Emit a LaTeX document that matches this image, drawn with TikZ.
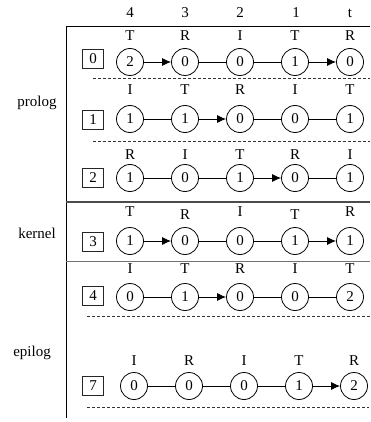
\documentclass[tikz,border=0pt]{standalone}
\usepackage{fontspec}
\setmainfont{Liberation Serif}
\usepackage{tikz}
\usetikzlibrary{arrows.meta}

\tikzset{
  st/.style={draw,circle,minimum size=27pt,inner sep=0pt},
  stepno/.style={draw=black!85,minimum width=21pt,minimum height=19pt,inner sep=0pt},
  cut/.style={dash pattern=on 3pt off 2pt,line width=0.6pt,black!80}
}

\begin{document}
\begin{tikzpicture}[x=1pt,y=-1pt,line width=0.8pt,
    font=\fontsize{15}{18}\selectfont,>={Latex[length=9pt,width=8pt]}]
        \useasboundingbox (0,0) rectangle (370,422);
        % column numbers
        \node (h4) at (130,13) {4};
        \node (h3) at (185,13) {3};
        \node (h2) at (240,13) {2};
        \node (h1) at (296,13) {1};
        \node (ht) at (350,13) {t};
        % frame and stage borders
        \draw (66,26)--(370,26);
        \draw (66,26)--(66,418);
        \draw[line width=1.8pt,black!70] (66,202)--(370,202);
        \draw[black!55] (66,261)--(370,261);
        \node (prolog) at (37,103) {prolog};
        \node (kernel) at (37,233) {kernel};
        \node (epilog) at (32,353) {epilog};

        % iteration 0
        \node[stepno] (b0) at (93,59) {0};
        \foreach \x/\t/\v [count=\i] in {130/T/2,185/R/0,240/I/0,295/T/1,350/R/0}{
          \node[st] (s0\i) at (\x,62) {\v};
          \node (t0\i) at (\x,36) {\t};
        }
        \draw[->] (s01)--(s02);
        \draw (s02)--(s03);
        \draw (s03)--(s04);
        \draw[->] (s04)--(s05);
        \draw[cut] (93,78)--(370,78);

        % iteration 1
        \node[stepno] (b1) at (93,120) {1};
        \foreach \x/\t/\v [count=\i] in {130/I/1,185/T/1,240/R/0,295/I/0,350/T/1}{
          \node[st] (s1\i) at (\x,119) {\v};
          \node (t1\i) at (\x,90) {\t};
        }
        \draw (s11)--(s12);
        \draw[->] (s12)--(s13);
        \draw (s13)--(s14);
        \draw (s14)--(s15);
        \draw[cut] (93,141)--(370,141);

        % iteration 2
        \node[stepno] (b2) at (93,178) {2};
        \foreach \x/\t/\v [count=\i] in {130/R/1,185/I/0,240/T/1,295/R/0,350/I/1}{
          \node[st] (s2\i) at (\x,178) {\v};
          \node (t2\i) at (\x,155) {\t};
        }
        \draw (s21)--(s22);
        \draw (s22)--(s23);
        \draw[->] (s23)--(s24);
        \draw (s24)--(s25);

        % iteration 3 (kernel)
        \node[stepno] (b3) at (93,242) {3};
        \foreach \x/\y/\t/\v [count=\i] in {130/212/T/1,185/215/R/0,240/212/I/0,295/215/T/1,350/212/R/1}{
          \node[st] (s3\i) at (\x,241) {\v};
          \node (t3\i) at (\x,\y) {\t};
        }
        \draw[->] (s31)--(s32);
        \draw (s32)--(s33);
        \draw (s33)--(s34);
        \draw[->] (s34)--(s35);

        % iteration 4
        \node[stepno] (b4) at (93,296) {4};
        \foreach \x/\t/\v [count=\i] in {130/I/0,185/T/1,240/R/0,295/I/0,350/T/2}{
          \node[st] (s4\i) at (\x,297) {\v};
          \node (t4\i) at (\x,269) {\t};
        }
        \draw (s41)--(s42);
        \draw[->] (s42)--(s43);
        \draw (s43)--(s44);
        \draw (s44)--(s45);
        \draw[cut] (87,316)--(370,316);

        % iteration 7
        \node[stepno] (b7) at (93,386) {7};
        \foreach \x/\t/\v [count=\i] in {134/I/0,189/R/0,244/I/0,299/T/1,354/R/2}{
          \node[st] (s7\i) at (\x,386) {\v};
          \node (t7\i) at (\x,361) {\t};
        }
        \draw (s71)--(s72);
        \draw (s72)--(s73);
        \draw (s73)--(s74);
        \draw[->] (s74)--(s75);
        \draw[cut] (87,407)--(369,407);
      \end{tikzpicture}
\end{document}
